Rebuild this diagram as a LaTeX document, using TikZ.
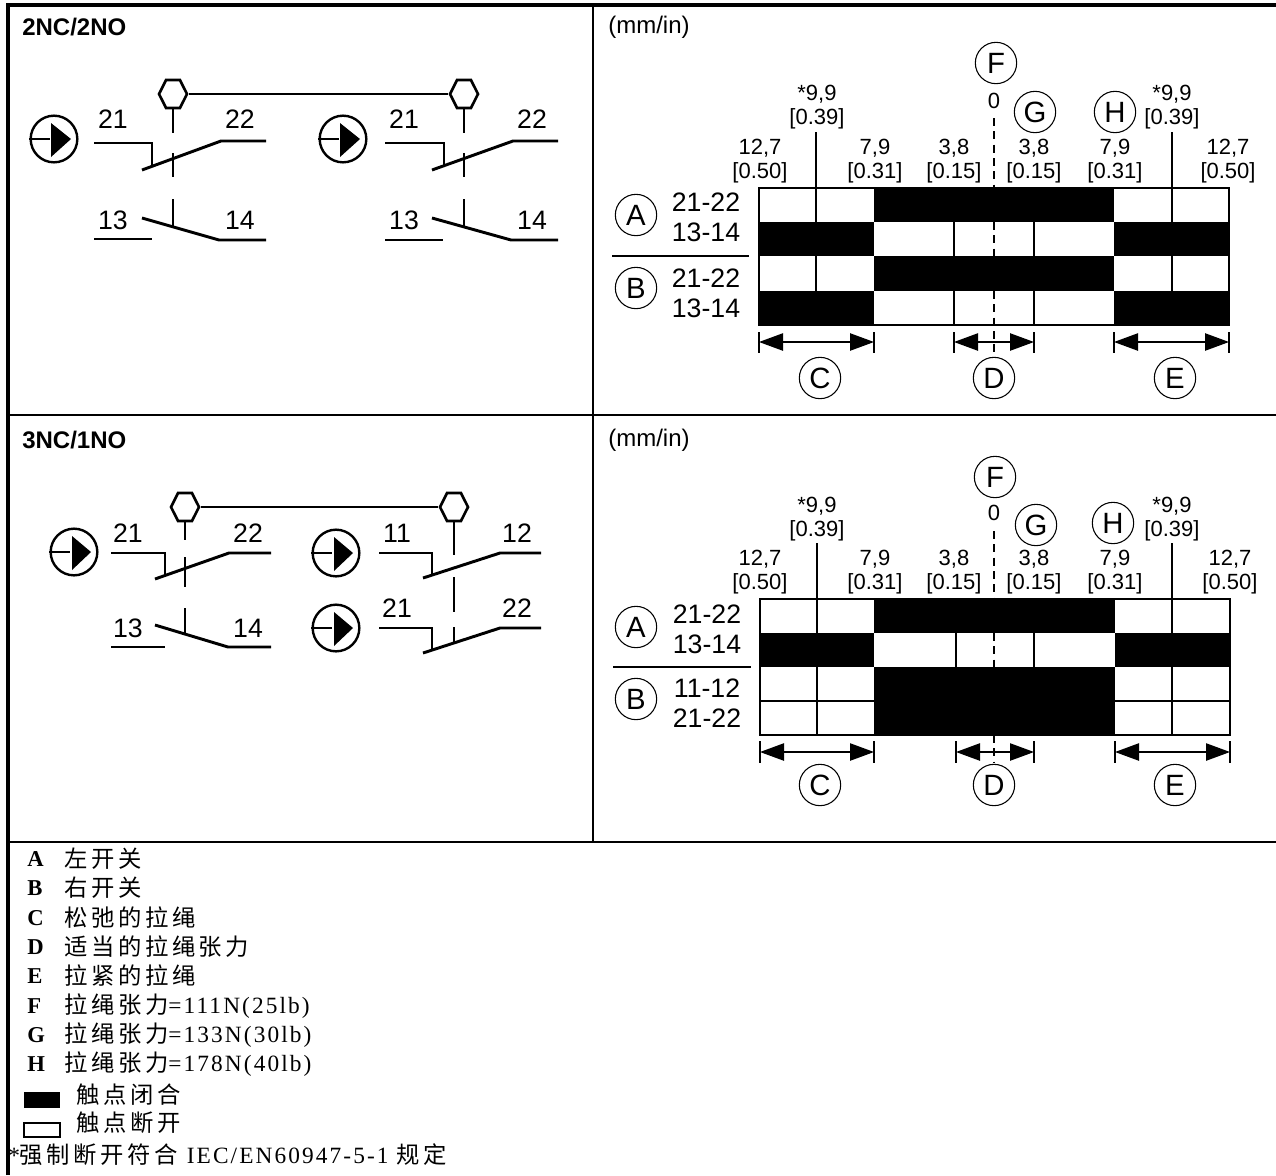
\documentclass[tikz,border=0pt]{standalone}
\usepackage{fontspec}
\setmainfont{Liberation Sans}
\newfontfamily\cjk[LetterSpace=15.5]{Noto Sans CJK SC}
\newfontfamily\tms[LetterSpace=9]{Liberation Serif}
\usetikzlibrary{arrows.meta,shapes.geometric}

\begin{document}
\begin{tikzpicture}[x=.75pt,y=-.75pt,
	wire/.style={line width=2.2pt},
	thin line/.style={line width=.8pt},
	dash line/.style={line width=.8pt,dash pattern=on 6pt off 4pt},
	hexa/.style={regular polygon,regular polygon sides=6,draw,line width=2pt,fill=white,inner sep=0,minimum size=21pt,yscale=1.15,transform shape},
	sym/.style={circle,draw,line width=1.8pt,inner sep=0,minimum size=35pt},
	tag/.style={circle,draw,line width=.8pt,inner sep=0,minimum size=31pt,font=\fontsize{22}{24}\selectfont},
	sw/.style={inner sep=0,font=\fontsize{20}{22}\selectfont},
	num/.style={inner sep=0,align=center,font=\fontsize{16.5}{18}\selectfont},
	head/.style={inner sep=0,anchor=west,font=\bfseries\fontsize{18}{20}\selectfont},
	unit/.style={inner sep=0,anchor=west,font=\fontsize{18}{20}\selectfont},
	dim/.style={{Triangle[length=18pt,width=13pt]}-{Triangle[length=18pt,width=13pt]},line width=1pt},
	key/.style={inner sep=0,anchor=west,font=\tms\bfseries\fontsize{17}{18}\selectfont},
	txt/.style={inner sep=0,anchor=west,font=\fontsize{17.5}{18}\selectfont}]
	\useasboundingbox (0,0) rectangle (1276,1175);
	% moldura
	\draw[line width=2.4pt] (8,1175) -- (8,5) -- (1276,5);
	\draw[line width=1.5pt] (593,5) -- (593,842);
	\draw[line width=1.5pt] (8,415) -- (1276,415);
	\draw[line width=1.2pt] (8,842) -- (1276,842);
	\node[head] (head1) at (22,27) {2NC/2NO};
	\node[head] (head2) at (22,440) {3NC/1NO};
	\node[unit] (unit1) at (608,27) {(mm/in)};
	\node[unit] (unit2) at (608,440) {(mm/in)};

	% esquema 2NC/2NO
	\node[hexa] (hex1) at (173,94) {};
	\node[hexa] (hex2) at (464,94) {};
	\draw[wire] (hex1) -- (hex2);
	\node[sym] (sym1) at (54,139) {};
	\draw[wire] (sym1.west) -- ++(21,0);
	\fill (51,123) -- (71,139) -- (51,157) -- cycle;
	\node[sym] (sym2) at (343,139) {};
	\draw[wire] (sym2.west) -- ++(21,0);
	\fill (340,123) -- (360,139) -- (340,157) -- cycle;
	\node[sw] (n1) at (113,119) {21};
	\node[sw] (n2) at (240,119) {22};
	\node[sw] (n3) at (113,220) {13};
	\node[sw] (n4) at (240,220) {14};
	\node[sw] (n5) at (404,119) {21};
	\node[sw] (n6) at (532,119) {22};
	\node[sw] (n7) at (404,220) {13};
	\node[sw] (n8) at (532,220) {14};
	% contatos da esquerda
	\draw[wire] (94,143) -- (152,143) -- (152,165);
	\draw[wire] (142,170) -- (221,141) -- (266,141);
	\draw[wire] (94,239) -- (152,239);
	\draw[wire] (142,218) -- (219,240) -- (266,240);
	\draw[wire] (hex1.south) -- (173,133);
	\draw[wire] (173,153) -- (173,177);
	\draw[wire] (173,199) -- (173,226);
	% contatos da direita
	\draw[wire] (385,143) -- (444,143) -- (444,165);
	\draw[wire] (432,170) -- (513,141) -- (558,141);
	\draw[wire] (385,240) -- (443,240);
	\draw[wire] (432,218) -- (511,240) -- (558,240);
	\draw[wire] (hex2.south) -- (464,133);
	\draw[wire] (464,153) -- (464,177);
	\draw[wire] (464,199) -- (464,226);

	% esquema 3NC/1NO
	\node[hexa] (hex3) at (185,507) {};
	\node[hexa] (hex4) at (454,507) {};
	\draw[wire] (hex3) -- (hex4);
	\node[sym] (sym3) at (74,552) {};
	\draw[wire] (sym3.west) -- ++(21,0);
	\fill (72,536) -- (91,552) -- (72,570) -- cycle;
	\node[sym] (sym4) at (336,553) {};
	\draw[wire] (sym4.west) -- ++(21,0);
	\fill (334,537) -- (353,553) -- (334,571) -- cycle;
	\node[sym] (sym5) at (336,628) {};
	\draw[wire] (sym5.west) -- ++(21,0);
	\fill (334,612) -- (353,628) -- (334,646) -- cycle;
	\node[sw] (n9) at (128,533) {21};
	\node[sw] (n10) at (248,533) {22};
	\node[sw] (n11) at (128,628) {13};
	\node[sw] (n12) at (248,628) {14};
	\node[sw] (n13) at (397,533) {11};
	\node[sw] (n14) at (517,533) {12};
	\node[sw] (n15) at (397,608) {21};
	\node[sw] (n16) at (517,608) {22};
	% contatos da esquerda
	\draw[wire] (111,553) -- (165,553) -- (165,575);
	\draw[wire] (155,579) -- (229,553) -- (271,553);
	\draw[wire] (111,647) -- (165,647);
	\draw[wire] (155,625) -- (228,647) -- (271,647);
	\draw[wire] (hex3.south) -- (185,540);
	\draw[wire] (185,557) -- (185,587);
	\draw[wire] (185,608) -- (185,633);
	% contatos da direita
	\draw[wire] (379,553) -- (432,553) -- (432,575);
	\draw[wire] (423,578) -- (500,553) -- (541,553);
	\draw[wire] (379,628) -- (432,628) -- (432,650);
	\draw[wire] (423,653) -- (500,628) -- (541,628);
	\draw[wire] (hex4.south) -- (454,555);
	\draw[wire] (454,577) -- (454,612);
	\draw[wire] (454,627) -- (454,643);

	% tabela de cima
	\fill (874,188) rectangle (1114,222);
	\fill (759,222) rectangle (874,256);
	\fill (1114,222) rectangle (1229,256);
	\fill (874,256) rectangle (1114,291);
	\fill (759,291) rectangle (874,325);
	\fill (1114,291) rectangle (1229,325);
	\draw[thin line] (759,188) rectangle (1229,325);
	\draw[thin line] (816,132) -- (816,222);
	\draw[thin line] (1172,132) -- (1172,222);
	\draw[thin line] (816,256) -- (816,291);
	\draw[thin line] (1172,256) -- (1172,291);
	\draw[thin line] (954,222) -- (954,256);
	\draw[thin line] (1034,222) -- (1034,256);
	\draw[thin line] (954,291) -- (954,325);
	\draw[thin line] (1034,291) -- (1034,325);
	\draw[dash line] (994,118) -- (994,188);
	\draw[dash line] (994,222) -- (994,256);
	\draw[dash line] (994,291) -- (994,353);
	% cotas de cima
	\draw[thin line] (759,332) -- (759,353);
	\draw[thin line] (874,332) -- (874,353);
	\draw[thin line] (954,332) -- (954,353);
	\draw[thin line] (1034,332) -- (1034,353);
	\draw[thin line] (1114,332) -- (1114,353);
	\draw[thin line] (1229,332) -- (1229,353);
	\coordinate (c1) at (759,342);
	\coordinate (c2) at (874,342);
	\coordinate (d1) at (954,342);
	\coordinate (d2) at (1034,342);
	\coordinate (e1) at (1114,342);
	\coordinate (e2) at (1229,342);
	\draw[dim] (c1) -- (c2);
	\draw[dim] (d1) -- (d2);
	\draw[dim] (e1) -- (e2);
	% rotulos de cima
	\node[num] (v1) at (760,161) {12,7\\{[0.50]}};
	\node[num] (v2) at (817,107) {*9,9\\{[0.39]}};
	\node[num] (v3) at (875,161) {7,9\\{[0.31]}};
	\node[num] (v4) at (954,161) {3,8\\{[0.15]}};
	\node[num] (v5) at (1034,161) {3,8\\{[0.15]}};
	\node[num] (v6) at (1115,161) {7,9\\{[0.31]}};
	\node[num] (v7) at (1172,107) {*9,9\\{[0.39]}};
	\node[num] (v8) at (1228,161) {12,7\\{[0.50]}};
	\node[num] (v9) at (994,101) {0};
	\node[tag] (mF) at (996,63) {F};
	\node[tag] (mG) at (1035,112) {G};
	\node[tag] (mH) at (1115,112) {H};
	\node[tag] (mA) at (636,215) {A};
	\node[tag] (mB) at (636,288) {B};
	\node[tag] (mC) at (820,378) {C};
	\node[tag] (mD) at (994,378) {D};
	\node[tag] (mE) at (1175,378) {E};
	\node[sw] (r1) at (706,202) {21-22};
	\node[sw] (r2) at (706,232) {13-14};
	\node[sw] (r3) at (706,278) {21-22};
	\node[sw] (r4) at (706,308) {13-14};
	\draw[thin line] (612,256) -- (749,256);

	% tabela de baixo
	\fill (874,599) rectangle (1115,633);
	\fill (760,633) rectangle (874,667);
	\fill (1115,633) rectangle (1230,667);
	\fill (874,667) rectangle (1115,735);
	\draw[thin line] (760,599) rectangle (1230,735);
	\draw[thin line] (760,701) -- (874,701);
	\draw[thin line] (1115,701) -- (1230,701);
	\draw[thin line] (817,543) -- (817,633);
	\draw[thin line] (1172,543) -- (1172,633);
	\draw[thin line] (817,667) -- (817,735);
	\draw[thin line] (1172,667) -- (1172,735);
	\draw[thin line] (956,633) -- (956,667);
	\draw[thin line] (1034,633) -- (1034,667);
	\draw[dash line] (994,531) -- (994,599);
	\draw[dash line] (994,633) -- (994,667);
	\draw[dash line] (994,735) -- (994,763);
	% cotas de baixo
	\draw[thin line] (760,741) -- (760,763);
	\draw[thin line] (874,741) -- (874,763);
	\draw[thin line] (956,741) -- (956,763);
	\draw[thin line] (1034,741) -- (1034,763);
	\draw[thin line] (1115,741) -- (1115,763);
	\draw[thin line] (1230,741) -- (1230,763);
	\coordinate (c3) at (760,752);
	\coordinate (c4) at (874,752);
	\coordinate (d3) at (956,752);
	\coordinate (d4) at (1034,752);
	\coordinate (e3) at (1115,752);
	\coordinate (e4) at (1230,752);
	\draw[dim] (c3) -- (c4);
	\draw[dim] (d3) -- (d4);
	\draw[dim] (e3) -- (e4);
	% rotulos de baixo
	\node[num] (v10) at (760,572) {12,7\\{[0.50]}};
	\node[num] (v11) at (817,519) {*9,9\\{[0.39]}};
	\node[num] (v12) at (875,572) {7,9\\{[0.31]}};
	\node[num] (v13) at (954,572) {3,8\\{[0.15]}};
	\node[num] (v14) at (1034,572) {3,8\\{[0.15]}};
	\node[num] (v15) at (1115,572) {7,9\\{[0.31]}};
	\node[num] (v16) at (1172,519) {*9,9\\{[0.39]}};
	\node[num] (v17) at (1230,572) {12,7\\{[0.50]}};
	\node[num] (v18) at (994,513) {0};
	\node[tag] (mF2) at (995,477) {F};
	\node[tag] (mG2) at (1036,525) {G};
	\node[tag] (mH2) at (1113,523) {H};
	\node[tag] (mA2) at (636,627) {A};
	\node[tag] (mB2) at (636,699) {B};
	\node[tag] (mC2) at (820,785) {C};
	\node[tag] (mD2) at (994,785) {D};
	\node[tag] (mE2) at (1175,785) {E};
	\node[sw] (r5) at (707,614) {21-22};
	\node[sw] (r6) at (707,644) {13-14};
	\node[sw] (r7) at (707,688) {11-12};
	\node[sw] (r8) at (707,718) {21-22};
	\draw[thin line] (613,667) -- (751,667);

	% legenda
	\node[key] (ka) at (27,859) {A};
	\node[txt] (ta) at (64,859) {\cjk 左开关};
	\node[key] (kb) at (27,888) {B};
	\node[txt] (tb) at (64,888) {\cjk 右开关};
	\node[key] (kc) at (27,918) {C};
	\node[txt] (tc) at (64,918) {\cjk 松弛的拉绳};
	\node[key] (kd) at (27,947) {D};
	\node[txt] (td) at (64,947) {\cjk 适当的拉绳张力};
	\node[key] (ke) at (27,976) {E};
	\node[txt] (te) at (64,976) {\cjk 拉紧的拉绳};
	\node[key] (kf) at (27,1006) {F};
	\node[txt] (tf) at (64,1006) {\cjk 拉绳张力\tms =111N(25lb)};
	\node[key] (kg) at (27,1035) {G};
	\node[txt] (tg) at (64,1035) {\cjk 拉绳张力\tms =133N(30lb)};
	\node[key] (kh) at (27,1064) {H};
	\node[txt] (th) at (64,1064) {\cjk 拉绳张力\tms =178N(40lb)};
	\fill (24,1092) rectangle (60,1108);
	\node[txt] (tk1) at (76,1095) {\cjk 触点闭合};
	\draw[thin line] (24,1123) rectangle (60,1137);
	\node[txt] (tk2) at (76,1123) {\cjk 触点断开};
	\node[txt] (foot) at (8,1155) {\tms *\cjk 强制断开符合 \tms IEC/EN60947-5-1 \cjk 规定};
\end{tikzpicture}
\end{document}
